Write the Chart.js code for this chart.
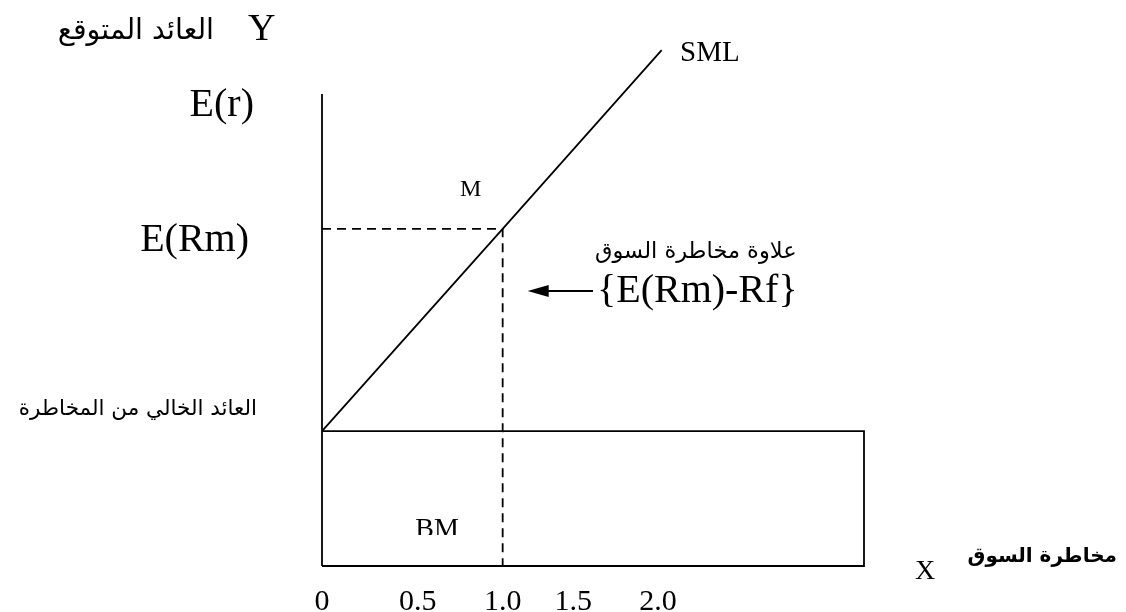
<!DOCTYPE html>
<html lang="ar">
<head>
<meta charset="UTF-8">
<title>SML</title>
<script src="https://cdn.jsdelivr.net/npm/chart.js"></script>
<style>
  body { margin: 0; background: #fff; }
  #wrap { width: 1126px; height: 612px; }
</style>
</head>
<body>
<div id="wrap"><canvas id="sml"></canvas></div>
<script>
// values
const smlBeta = [0, 1.0, 1.88];
const smlReturn = [4, 10, 15.3];
const riskFree = 4;
const marketBeta = 1.0;
const marketReturn = 10;
const betaEnd = 3;        // right edge of the risk-free box
const returnTop = 14;     // top of the return axis
const tickAt = [0, 0.53, 1.0, 1.39, 1.86];
const tickLabels = ['0', '0.5', '1.0', '1.5', '2.0'];

const serif = '"Liberation Serif", "Times New Roman", serif';
const arabic = '"DejaVu Sans", sans-serif';

const pts = (xs, ys) => xs.map((x, i) => ({ x: x, y: ys[i] }));

const lineStyle = {
  borderColor: '#000',
  borderWidth: 1.8,
  pointRadius: 0,
  fill: false,
  tension: 0,
  clip: false
};

// labels, arrow and the half-hidden BM
const notes = {
  id: 'notes',
  afterDatasetsDraw(chart) {
    const c = chart.ctx;
    const xs = chart.scales.x, ys = chart.scales.y;
    const xm = xs.getPixelForValue(marketBeta);
    const ym = ys.getPixelForValue(marketReturn);
    const yrf = ys.getPixelForValue(riskFree);
    const x0 = xs.getPixelForValue(0);

    c.save();
    c.fillStyle = '#000';
    c.textBaseline = 'middle';

    c.font = '38px ' + serif;
    c.textAlign = 'left';
    c.fillText('Y', 248, 30);
    c.font = '28.5px ' + arabic;
    c.textAlign = 'right';
    c.fillText('العائد المتوقع', 214, 32);

    c.font = '40px ' + serif;
    c.textAlign = 'right';
    c.fillText('E(r)', x0 - 68, 105);
    c.fillText('E(Rm)', x0 - 73, ym + 12);

    c.font = '24px ' + serif;
    c.textAlign = 'center';
    c.fillText('M', xm - 32, 190);

    c.font = '29px ' + serif;
    c.textAlign = 'left';
    c.fillText('SML', 680, 53);

    c.font = '22.5px ' + arabic;
    c.textAlign = 'left';
    c.fillText('علاوة مخاطرة السوق', 595, 252);

    // arrow pointing at the dashed line
    const ay = 291;
    c.strokeStyle = '#000';
    c.lineWidth = 1.8;
    c.beginPath();
    c.moveTo(593, ay);
    c.lineTo(540, ay);
    c.stroke();
    c.beginPath();
    c.moveTo(xm + 25, ay);
    c.lineTo(xm + 46, ay - 6);
    c.lineTo(xm + 46, ay + 6);
    c.closePath();
    c.fill();

    c.font = '40px ' + serif;
    c.textAlign = 'left';
    c.fillText('{E(Rm)-Rf}', 597, ay);

    c.font = '21.5px ' + arabic;
    c.textAlign = 'right';
    c.fillText('العائد الخالي من المخاطرة', x0 - 65, yrf - 22);

    c.font = '28px ' + serif;
    c.textAlign = 'left';
    c.fillText('X', 915, 572);

    c.font = 'bold 20px ' + arabic;
    c.textAlign = 'right';
    c.fillText('مخاطرة السوق', 1117, 557);

    // BM sits in a box whose bottom cuts the letters
    c.save();
    c.beginPath();
    c.rect(380, 500, 120, 35);
    c.clip();
    c.font = '28px ' + serif;
    c.textAlign = 'center';
    c.textBaseline = 'alphabetic';
    c.fillText('BM', 437, 537);
    c.restore();

    c.restore();
  }
};

new Chart(document.getElementById('sml'), {
  type: 'line',
  data: {
    datasets: [
      Object.assign({ label: 'SML', data: pts(smlBeta, smlReturn) }, lineStyle),
      Object.assign({ label: 'axis', data: [{ x: 0, y: 0 }, { x: 0, y: returnTop }] }, lineStyle),
      Object.assign({ label: 'box', data: [
        { x: 0, y: riskFree }, { x: betaEnd, y: riskFree },
        { x: betaEnd, y: 0 }, { x: 0, y: 0 }
      ] }, lineStyle),
      Object.assign({ label: 'market', data: [
        { x: 0, y: marketReturn }, { x: marketBeta, y: marketReturn }, { x: marketBeta, y: 0 }
      ], borderDash: [9, 6] }, lineStyle)
    ]
  },
  options: {
    responsive: true,
    maintainAspectRatio: false,
    animation: false,
    events: [],
    layout: { padding: { left: 322, right: 262, top: 94, bottom: 0 } },
    plugins: { legend: { display: false }, tooltip: { enabled: false } },
    scales: {
      x: {
        type: 'linear',
        min: 0,
        max: betaEnd,
        grid: { display: false },
        border: { display: false },
        afterBuildTicks: axis => { axis.ticks = tickAt.map(v => ({ value: v })); },
        afterFit: axis => { axis.height = 46; },
        ticks: {
          autoSkip: false,
          maxRotation: 0,
          padding: 10,
          color: '#000',
          font: { family: serif, size: 30 },
          callback: (v, i) => tickLabels[i]
        }
      },
      y: {
        display: false,
        min: 0,
        max: returnTop
      }
    }
  },
  plugins: [notes]
});
</script>
</body>
</html>
